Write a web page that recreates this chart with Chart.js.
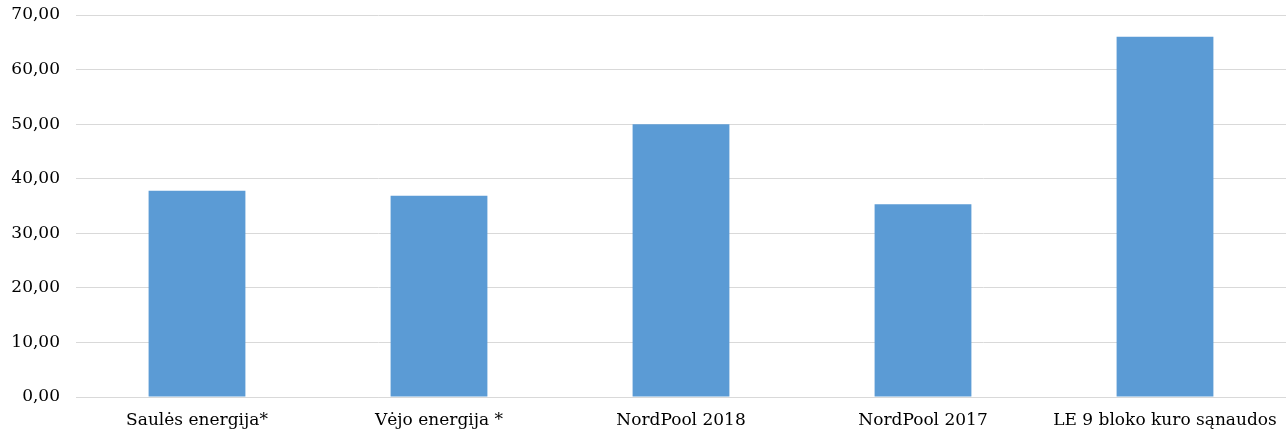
<!DOCTYPE html>
<html><head><meta charset="utf-8">
<script src="https://cdn.jsdelivr.net/npm/chart.js@4/dist/chart.umd.min.js"></script>
<style>html,body{margin:0;padding:0;background:#fff}#wrap{width:1286px;height:430px}</style>
</head><body><div id="wrap"><canvas id="c"></canvas></div>
<script>
const categories = ["Saulės energija*", "Vėjo energija *", "NordPool 2018", "NordPool 2017", "LE 9 bloko kuro sąnaudos"];
const values = [37.8, 36.9, 50.0, 35.3, 66.0];
const yMin = 0, yMax = 70, yStep = 10;

const FONT = '"DejaVu Serif", Georgia, serif';
new Chart(document.getElementById('c'), {
  type: 'bar',
  data: { labels: categories, datasets: [{ data: values, backgroundColor: '#5B9BD5', borderWidth: 0, barPercentage: 0.4, categoryPercentage: 1 }] },
  options: {
    responsive: true, maintainAspectRatio: false, animation: false,
    layout: { padding: { top: 15, right: 0, left: 0, bottom: 0 } },
    plugins: { legend: { display: false }, tooltip: { enabled: false } },
    scales: {
      x: {
        grid: { display: false, drawTicks: false },
        border: { color: '#d9d9d9', width: 1 },
        ticks: { color: '#000', font: { family: FONT, size: 17 }, padding: 13, maxRotation: 0, autoSkip: false },
        afterFit: s => { s.height = 33; s.paddingLeft = 0; s.paddingRight = 0; }
      },
      y: {
        min: yMin, max: yMax,
        grid: { color: '#d9d9d9', lineWidth: 1, drawTicks: false },
        border: { display: false },
        ticks: { stepSize: yStep, color: '#000', font: { family: FONT, size: 17 }, padding: 16,
          callback: v => v.toFixed(2).replace('.', ',') },
        afterFit: s => { s.width = 76; s.paddingTop = 0; s.paddingBottom = 0; }
      }
    }
  }
});
</script></body></html>
